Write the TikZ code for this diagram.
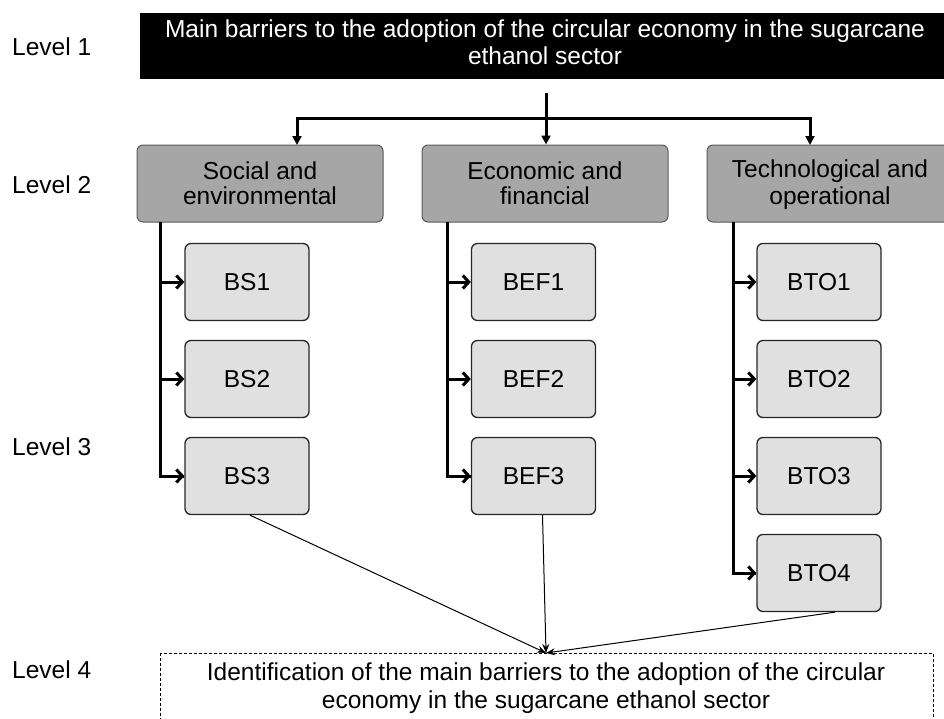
\documentclass[tikz,border=0pt]{standalone}
\usepackage{fontspec}
\setmainfont{Liberation Sans}
\usetikzlibrary{arrows.meta}

\definecolor{catgray}{HTML}{A6A6A6}
\definecolor{itemgray}{HTML}{E0E0E0}
\definecolor{edgegray}{HTML}{5A5A5A}

\newcommand{\linestrut}{\rule[-4pt]{0pt}{24pt}}

\tikzset{
	catbox/.style={draw=edgegray, line width=1pt, fill=catgray, rounded corners=6pt, minimum width=246pt,
		minimum height=77pt, align=center, inner sep=0pt, font=\fontsize{24.5}{25}\selectfont},
	itembox/.style={draw=black!85, line width=1.3pt, fill=itemgray, rounded corners=6pt, minimum width=124pt,
		minimum height=77pt, inner sep=0pt, font=\fontsize{24.5}{25}\selectfont},
	levellabel/.style={anchor=west, inner sep=0pt, font=\fontsize{24.5}{25}\selectfont},
	trunk/.style={line width=3pt},
	drop/.style={line width=3pt, -{Triangle[length=9pt,width=9pt]}},
	branch/.style={line width=3pt, -{Straight Barb[length=6pt,width=13pt,line width=3pt]}},
	merge/.style={line width=1pt, -{Stealth[length=9pt,width=7pt]}}
}

\begin{document}
\begin{tikzpicture}[x=1pt,y=-1pt,>=latex]
	\useasboundingbox (0,0) rectangle (944,718);

	% levels
	\node[levellabel] (lvl1) at (12,47) {Level 1};
	\node[levellabel] (lvl2) at (12,185) {Level 2};
	\node[levellabel] (lvl3) at (12,447) {Level 3};
	\node[levellabel] (lvl4) at (12,670) {Level 4};

	% goal
	\node[fill=black, anchor=north west, minimum width=830pt, minimum height=66pt, inner sep=0pt] (goal) at (140,13) {};
	\node[text=white, align=center, inner sep=0pt, font=\fontsize{24.5}{27}\selectfont] (goaltxt) at (545,46)
		{\strut Main barriers to the adoption of the circular economy in the sugarcane\\\strut ethanol sector};

	% criteria
	\node[catbox] (soc) at (260,183.5) {\linestrut Social and\\\linestrut environmental};
	\node[catbox] (eco) at (545,183.5) {\linestrut Economic and\\\linestrut financial};
	\node[catbox] (tec) at (830,183.5) {\linestrut Technological and\\\linestrut operational};

	\begin{scope}
		\coordinate (split) at (546,118);
		\draw[trunk] (546,93) -- (split);
		\draw[drop] (split) -- (eco.north -| split);
		\draw[drop] (split) -| (297,145);
		\draw[drop] (split) -| (810,145);
	\end{scope}

	% sub-criteria
	\foreach \lab/\yy in {1/282,2/379,3/476}{
		\node[itembox] (bs\lab) at (247,\yy) {BS\lab};
		\node[itembox] (bef\lab) at (533.5,\yy) {BEF\lab};
	}
	\foreach \lab/\yy in {1/282,2/379,3/476,4/573}{
		\node[itembox] (bto\lab) at (819,\yy) {BTO\lab};
	}

	\draw[trunk] (160,222) |- (bs3.west);
	\draw[trunk] (447,222) |- (bef3.west);
	\draw[trunk] (733,222) |- (bto4.west);
	\foreach \lab in {1,2,3}{
		\draw[branch] (160,0 |- bs\lab.west) -- (bs\lab.west);
		\draw[branch] (447,0 |- bef\lab.west) -- (bef\lab.west);
	}
	\foreach \lab in {1,2,3,4}{
		\draw[branch] (733,0 |- bto\lab.west) -- (bto\lab.west);
	}

	% result
	\node[draw, line width=1pt, dash pattern=on 3pt off 2pt, anchor=north west, minimum width=773pt, minimum height=90pt, inner sep=0pt] (res) at (160,653) {};
	\node[align=center, inner sep=0pt, font=\fontsize{24.5}{28}\selectfont] (restxt) at (546,689)
		{\strut Identification of the main barriers to the adoption of the circular\\\strut economy in the sugarcane ethanol sector};

	\coordinate (hit) at (546,653);
	\draw[merge] (bs3.south) ++(3,0) -- (hit);
	\draw[merge] (bef3.south) ++(9,0) -- (hit);
	\draw[merge] (bto4.south) ++(16,0) -- (hit);
\end{tikzpicture}
\end{document}
